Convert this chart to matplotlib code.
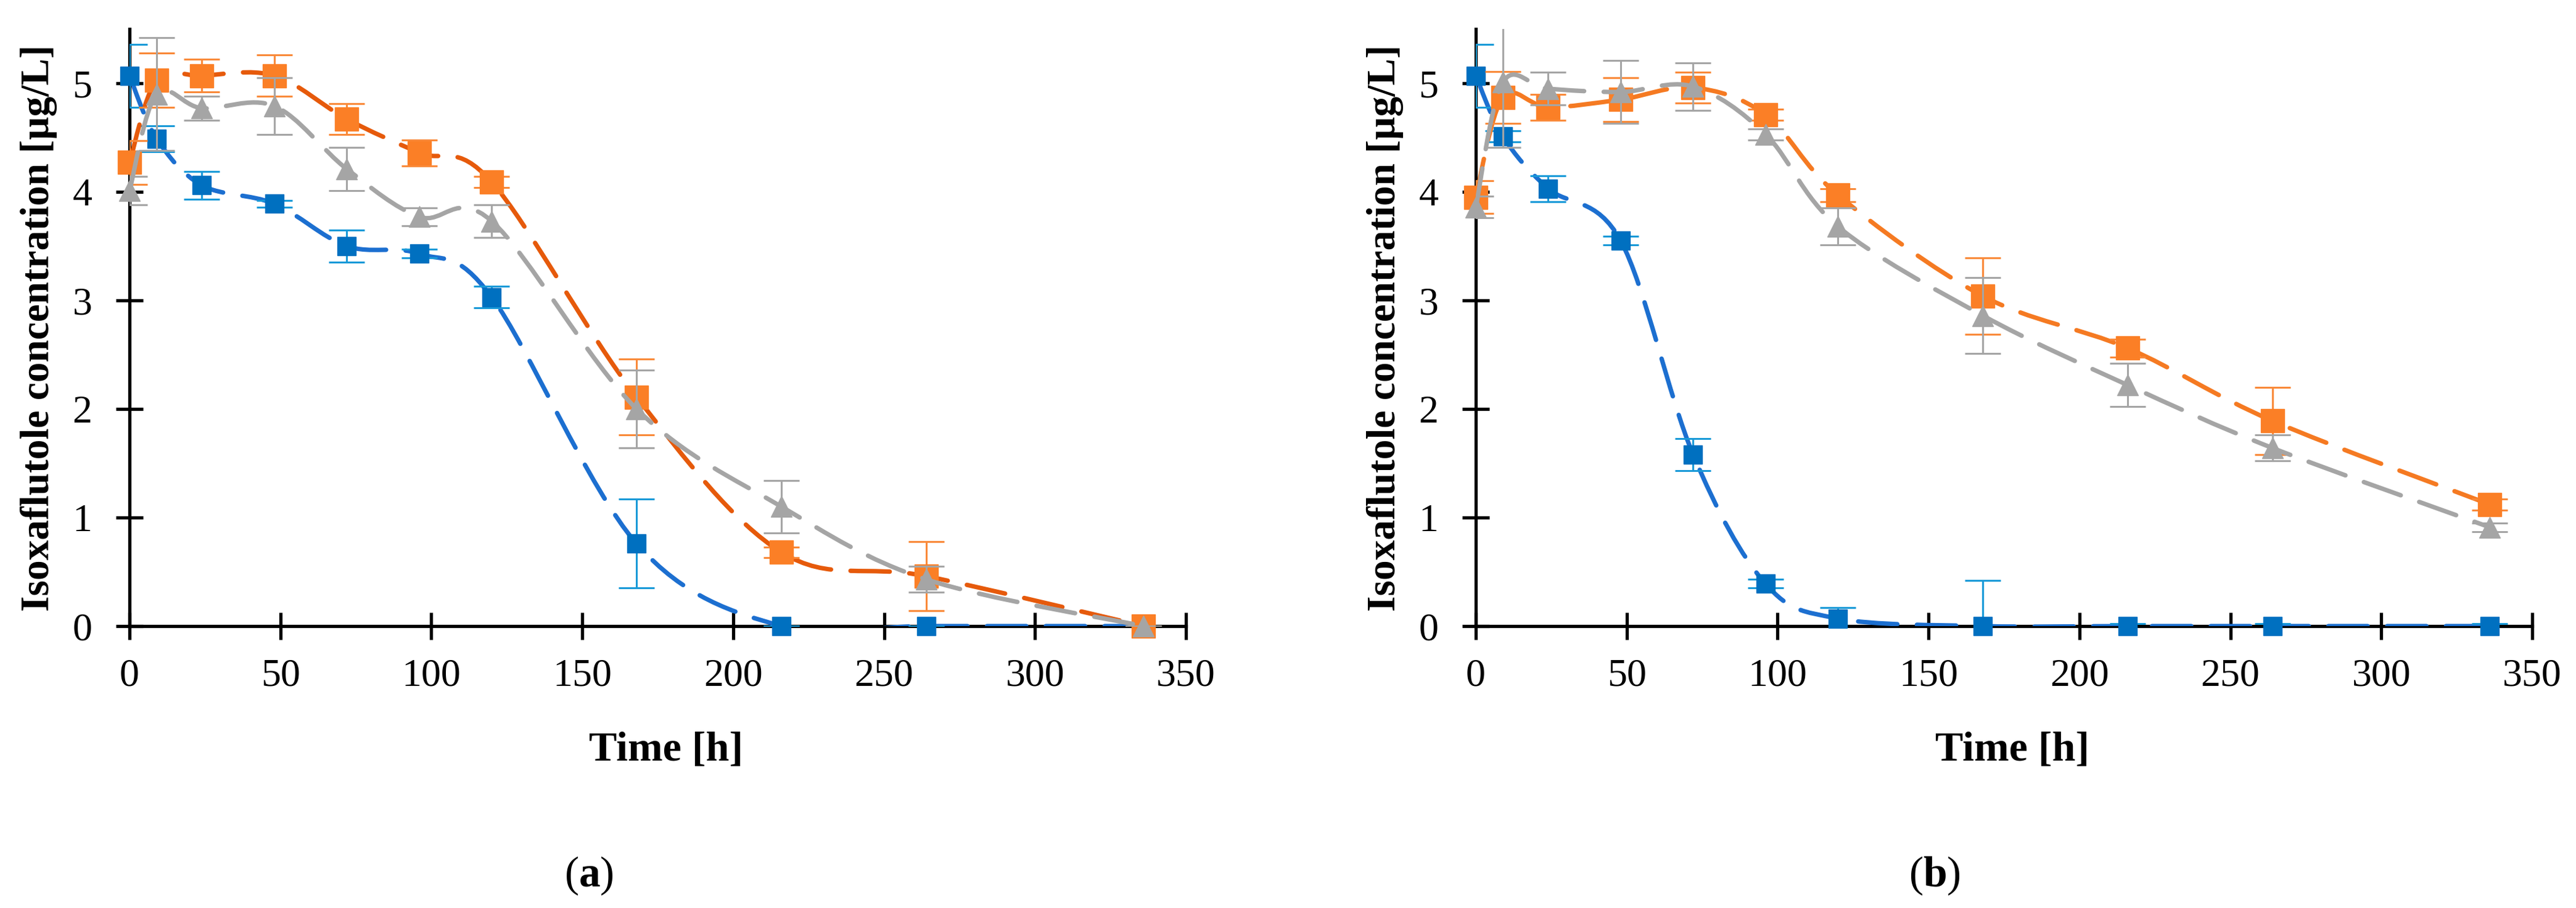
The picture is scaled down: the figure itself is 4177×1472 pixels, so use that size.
import numpy as np
import matplotlib
matplotlib.use('Agg')
import matplotlib.pyplot as plt
from matplotlib.path import Path
from matplotlib.patches import PathPatch

plt.rcParams['font.family'] = ['Liberation Serif', 'DejaVu Serif']
plt.rcParams['mathtext.fontset'] = 'custom'
plt.rcParams['mathtext.rm'] = 'Liberation Serif'
plt.rcParams['mathtext.bf'] = 'Liberation Serif:bold'

# sampling times (h)
time_h = [0, 9, 24, 48, 72, 96, 120, 168, 216, 264, 336]

# panel (a)
a_blue = [5.07, 4.49, 4.06, 3.89, 3.50, 3.43, 3.03, 0.76, 0.0, 0.0, 0.0]
a_blue_err = [0.29, 0.12, 0.13, 0.03, 0.15, 0.04, 0.10, 0.41, 0.0, 0.0, 0.0]
a_orange = [4.27, 5.03, 5.07, 5.07, 4.67, 4.36, 4.09, 2.11, 0.68, 0.46, 0.0]
a_orange_err = [0.20, 0.25, 0.15, 0.19, 0.14, 0.12, 0.05, 0.35, 0.05, 0.32, 0.0]
a_gray = [4.01, 4.90, 4.77, 4.79, 4.21, 3.77, 3.73, 2.00, 1.10, 0.43, 0.0]
a_gray_err = [0.13, 0.52, 0.11, 0.26, 0.20, 0.08, 0.15, 0.36, 0.24, 0.12, 0.0]

# panel (b)
b_blue = [5.07, 4.51, 4.03, 3.55, 1.58, 0.39, 0.07, 0.0, 0.0, 0.0, 0.0]
b_blue_err = [0.29, 0.05, 0.12, 0.04, 0.15, 0.04, 0.10, 0.42, 0.02, 0.02, 0.02]
b_orange = [3.95, 4.87, 4.78, 4.85, 4.96, 4.71, 3.97, 3.04, 2.56, 1.89, 1.12]
b_orange_err = [0.15, 0.24, 0.12, 0.20, 0.14, 0.05, 0.06, 0.35, 0.08, 0.31, 0.05]
b_gray = [3.86, 5.01, 4.95, 4.92, 4.97, 4.53, 3.68, 2.86, 2.22, 1.64, 0.91]
b_gray_err = [0.10, 0.60, 0.15, 0.29, 0.22, 0.05, 0.17, 0.35, 0.20, 0.12, 0.04]

x_ticks = [0, 50, 100, 150, 200, 250, 300, 350]
y_ticks = [0, 1, 2, 3, 4, 5]
y_label = 'Isoxaflutole concentration [µg/L]'
x_label = 'Time [h]'

BLUE = '#0070C0'
BLUE_LINE = '#1C6FD0'
BLUE_ERR = '#1A9AD8'
ORANGE = '#FB7F26'
GRAY = '#A5A5A5'

W, H = 4177, 1472
DPI = 100


def smooth_path(x, y):
    # excel-like smoothed line: catmull-rom through the points as bezier segments
    n = len(x)
    verts = [(x[0], y[0])]
    codes = [Path.MOVETO]
    for i in range(n - 1):
        p0 = max(i - 1, 0)
        p3 = min(i + 2, n - 1)
        c1 = (x[i] + (x[i + 1] - x[p0]) / 6.0, y[i] + (y[i + 1] - y[p0]) / 6.0)
        c2 = (x[i + 1] - (x[p3] - x[i]) / 6.0, y[i + 1] - (y[p3] - y[i]) / 6.0)
        verts += [c1, c2, (x[i + 1], y[i + 1])]
        codes += [Path.CURVE4] * 3
    return Path(verts, codes)


def draw_series(ax, y, err, line_col, mk_col, err_col, marker, ms, z):
    p = PathPatch(smooth_path(time_h, y), fill=False, edgecolor=line_col,
                  lw=5.2, linestyle=(0, (8.8, 4.4)), capstyle='round', zorder=z)
    ax.add_patch(p)
    ax.errorbar(time_h, y, yerr=err, fmt='none', ecolor=err_col, elinewidth=2.2,
                capsize=21, capthick=2.2, zorder=z + 0.1)
    ax.plot(time_h, y, linestyle='none', marker=marker, ms=ms, color=mk_col,
            mec=mk_col, clip_on=False, zorder=z + 0.2)


def make_panel(left_px, series, cap, cap_x):
    ax = fig.add_axes([left_px / W, 1 - 1015 / H, 1713 / W, 968 / H])
    for k, s in enumerate(series):
        draw_series(ax, *s, z=3 + k)
    ax.set_xlim(0, 350)
    ax.set_ylim(0, 5.5)
    ax.set_xticks(x_ticks)
    ax.set_yticks(y_ticks)
    for side in ('top', 'right'):
        ax.spines[side].set_visible(False)
    for side in ('left', 'bottom'):
        ax.spines[side].set_linewidth(3.8)
        ax.spines[side].set_zorder(2)
    ax.tick_params(axis='both', direction='inout', length=31, width=3.8,
                   labelsize=46)
    ax.tick_params(axis='x', pad=22)
    ax.tick_params(axis='y', pad=28)
    # labels
    fig.text((left_px - 147) / W, 1 - 532 / H, y_label, rotation=90,
             ha='center', va='center', fontsize=47, fontweight='bold')
    fig.text((left_px + 870) / W, 1 - 1217 / H, x_label, ha='center',
             va='center', fontsize=49, fontweight='bold')
    fig.text(cap_x / W, 1 - 1420 / H, cap, ha='center', va='center', fontsize=50)
    return ax


fig = plt.figure(figsize=(W / DPI, H / DPI), dpi=DPI)

series_a = [
    (a_blue, a_blue_err, BLUE_LINE, BLUE, BLUE_ERR, 's', 21.5),
    (a_orange, a_orange_err, '#E65A0B', ORANGE, '#F98A3A', 's', 27),
    (a_gray, a_gray_err, GRAY, GRAY, GRAY, '^', 24),
]
series_b = [
    (b_blue, b_blue_err, BLUE_LINE, BLUE, BLUE_ERR, 's', 21.5),
    (b_orange, b_orange_err, '#F57A22', ORANGE, '#F98A3A', 's', 27),
    (b_gray, b_gray_err, GRAY, GRAY, GRAY, '^', 24),
]

make_panel(210, series_a, r'($\mathbf{a}$)', 955)
make_panel(2393, series_b, r'($\mathbf{b}$)', 3137)

fig.savefig('out.png', dpi=DPI)
